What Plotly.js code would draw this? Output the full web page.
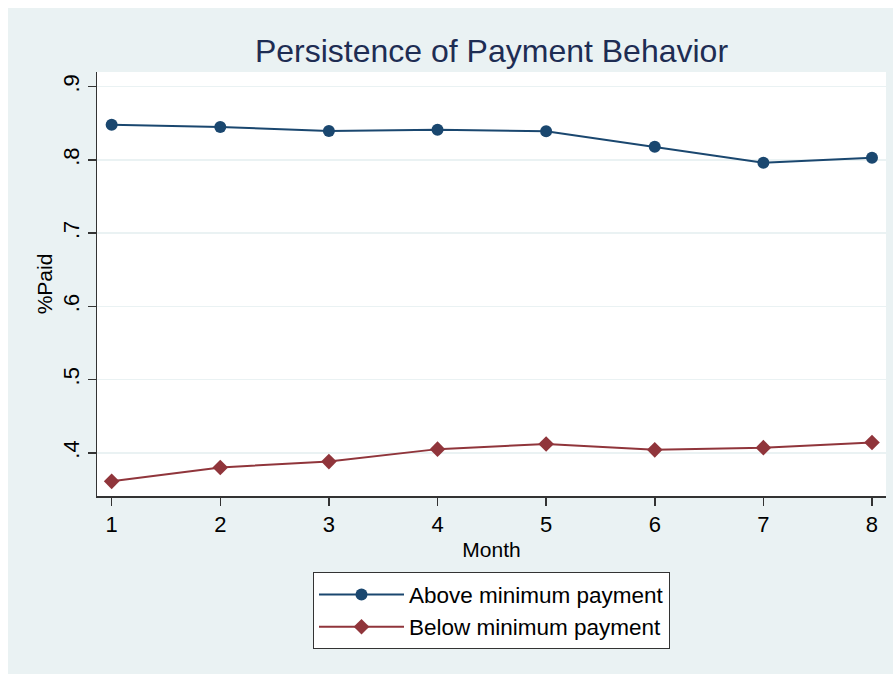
<!DOCTYPE html>
<html>
<head>
<meta charset="utf-8">
<script src="https://cdn.plot.ly/plotly-3.0.1.min.js"></script>
<style>
  html, body { margin: 0; padding: 0; background: #ffffff; }
  #chart { position: absolute; left: 8px; top: 8px; width: 885px; height: 666px; }
</style>
</head>
<body>
<div id="chart"></div>
<script>
const months = [1, 2, 3, 4, 5, 6, 7, 8];
const aboveMin = [0.848, 0.845, 0.8395, 0.841, 0.839, 0.818, 0.796, 0.803];
const belowMin = [0.361, 0.380, 0.388, 0.405, 0.412, 0.404, 0.407, 0.414];
const yTickVals = [0.4, 0.5, 0.6, 0.7, 0.8, 0.9];
const yTickText = ['.4', '.5', '.6', '.7', '.8', '.9'];
const xTickVals = [1, 2, 3, 4, 5, 6, 7, 8];
const seriesNames = ['Above minimum payment', 'Below minimum payment'];

const FONT = 'Liberation Sans, Arial, sans-serif';
const BG = '#eaf2f3';

const traces = [
  {
    x: months, y: aboveMin, name: seriesNames[0], type: 'scatter', mode: 'lines+markers',
    line: { color: '#1a476f', width: 2 },
    marker: { color: '#1a476f', size: 12, symbol: 'circle' }
  },
  {
    x: months, y: belowMin, name: seriesNames[1], type: 'scatter', mode: 'lines+markers',
    line: { color: '#90353b', width: 2 },
    marker: { color: '#90353b', size: 12, symbol: 'diamond' }
  }
];

const layout = {
  width: 885, height: 666,
  paper_bgcolor: BG, plot_bgcolor: '#ffffff',
  margin: { l: 89, r: 7, t: 64, b: 178 },
  font: { family: FONT, color: '#000000' },
  title: {
    text: 'Persistence of Payment Behavior',
    font: { family: FONT, size: 32, color: '#1e2d53' },
    x: 0.5, xref: 'paper', xanchor: 'center',
    y: 1, yref: 'paper', yanchor: 'bottom', pad: { b: 10 }
  },
  xaxis: {
    range: [0.865, 8.129],
    tickvals: xTickVals,
    ticks: 'outside', ticklen: 8, tickwidth: 1.5, tickcolor: '#333333',
    showline: true, linecolor: '#333333', linewidth: 1.5,
    showgrid: false, zeroline: false,
    tickfont: { family: FONT, size: 22, color: '#000000' },
    title: { text: 'Month', font: { family: FONT, size: 21, color: '#000000' }, standoff: 6 }
  },
  yaxis: {
    range: [0.341, 0.92],
    tickvals: yTickVals, ticktext: yTickText, tickangle: -90,
    ticks: 'outside', ticklen: 8, tickwidth: 1.5, tickcolor: '#333333',
    showline: true, linecolor: '#333333', linewidth: 1.5,
    showgrid: true, gridcolor: BG, gridwidth: 1.5, zeroline: false,
    tickfont: { family: FONT, size: 22, color: '#000000' },
    title: { text: '%Paid', font: { family: FONT, size: 21, color: '#000000' }, standoff: 0 }
  },
  showlegend: true,
  legend: {
    orientation: 'v',
    x: 0.5, xanchor: 'center', xref: 'paper',
    y: -0.18, yanchor: 'top', yref: 'paper',
    bgcolor: '#ffffff', bordercolor: '#333333', borderwidth: 1,
    font: { family: FONT, size: 22.5, color: '#000000' },
    itemwidth: 85,
    entrywidth: 375, entrywidthmode: 'pixels'
  }
};

Plotly.newPlot('chart', traces, layout, { displayModeBar: false, staticPlot: true });
</script>
</body>
</html>
